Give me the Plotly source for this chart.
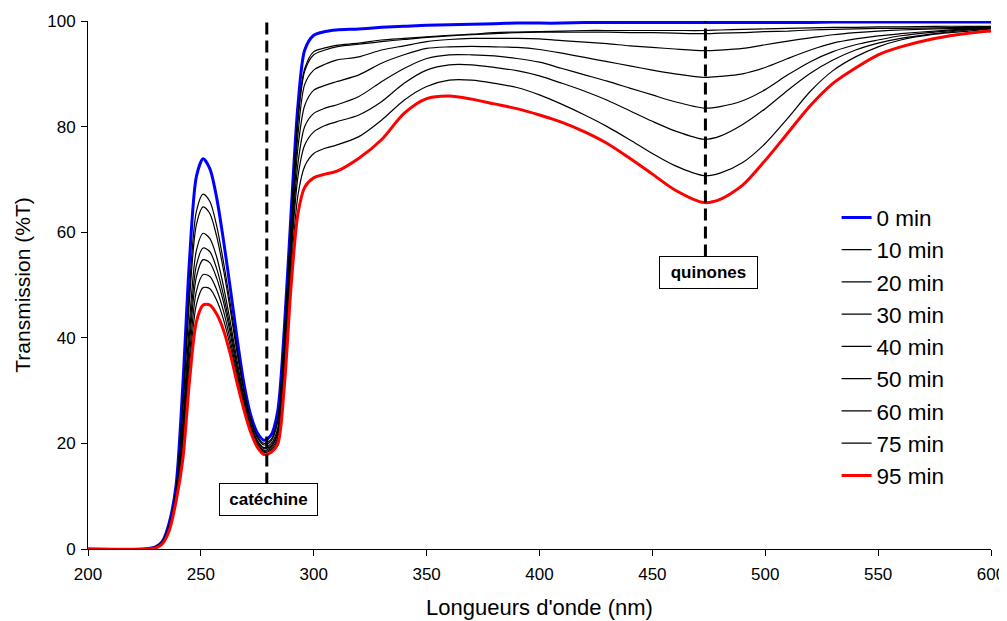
import plotly.graph_objects as go

# wavelengths (nm)
wl = [200, 225, 230, 233, 236, 239, 242, 245, 248, 251, 254, 257, 260, 263, 266, 269,
      272, 275, 278, 281, 284, 287, 290, 293, 296, 300, 305, 310, 320, 330, 340, 350,
      360, 370, 380, 390, 400, 410, 420, 430, 440, 450, 460, 473, 480, 490, 500, 510,
      520, 530, 540, 550, 560, 575, 590, 600]

t0 = [0, 0, 0.4, 1.5, 5, 12, 31, 55, 70.5, 73.9, 72, 66.5, 58.5, 49.5, 40, 31.5,
      25.5, 22, 20.6, 21.5, 26, 42, 64, 84, 94.5, 97.3, 98.0, 98.3, 98.5, 98.8, 99.0, 99.2,
      99.3, 99.4, 99.5, 99.6, 99.6, 99.6, 99.7, 99.7, 99.7, 99.7, 99.7, 99.7, 99.7, 99.7, 99.7, 99.7,
      99.7, 99.8, 99.8, 99.8, 99.8, 99.8, 99.8, 99.8]
t10 = [0, 0, 0.4, 1.4, 4.6, 11.3, 27.6, 49.5, 63.9, 67.2, 65.8, 61.2, 54.4, 46.5, 38, 30.3,
       24.7, 21.4, 20.0, 20.7, 24.5, 41, 62, 82, 91, 94.2, 94.9, 95.4, 95.8, 96.4, 96.7, 97.0,
       97.3, 97.5, 97.8, 97.9, 98.0, 98.1, 98.2, 98.2, 98.2, 98.2, 98.2, 98.2, 98.3, 98.4, 98.5, 98.6,
       98.7, 98.8, 98.8, 98.9, 98.9, 99.0, 99.0, 99.0]
t20 = [0, 0, 0.4, 1.4, 4.5, 11, 26.4, 47.4, 61.4, 64.8, 63.5, 59.2, 52.9, 45.4, 37.2, 29.9,
       24.4, 21.1, 19.7, 20.4, 24, 40, 61, 81, 90.5, 93.6, 94.5, 95.1, 95.6, 96.1, 96.5, 96.9,
       97.2, 97.4, 97.6, 97.8, 97.9, 97.9, 97.9, 97.9, 97.8, 97.8, 97.7, 97.6, 97.7, 97.8, 98.0, 98.1,
       98.3, 98.4, 98.5, 98.6, 98.6, 98.7, 98.8, 98.8]
t30 = [0, 0, 0.3, 1.3, 4.2, 10.5, 23.9, 43.3, 56.5, 59.8, 58.8, 55.3, 49.8, 43.1, 35.7, 29,
       23.8, 20.6, 19.2, 19.9, 22.8, 39, 59.5, 78.5, 88, 90.7, 91.8, 92.6, 93.2, 94.5, 95.3, 96.1,
       96.5, 96.7, 96.7, 96.7, 96.6, 96.3, 96.0, 95.7, 95.3, 95.0, 94.7, 94.4, 94.5, 94.8, 95.5, 96.2,
       96.8, 97.4, 97.8, 98.1, 98.3, 98.5, 98.6, 98.7]
t40 = [0, 0, 0.3, 1.3, 4.1, 10.2, 22.5, 41, 53.7, 57, 56.3, 53.1, 48.1, 41.9, 34.8, 28.5,
       23.5, 20.4, 19.0, 19.5, 22.2, 38, 58, 76, 84, 86.9, 87.8, 88.5, 89.8, 92.0, 93.6, 94.8,
       95.1, 95.2, 95.1, 95.0, 94.6, 93.9, 93.1, 92.3, 91.5, 90.7, 90.0, 89.3, 89.5, 90.0, 91.2, 92.9,
       94.5, 95.8, 96.6, 97.2, 97.6, 98.1, 98.5, 98.7]
t50 = [0, 0, 0.3, 1.2, 4, 9.9, 21.3, 39.1, 51.5, 54.8, 54.2, 51.3, 46.8, 40.9, 34.1, 28.1,
       23.2, 20.1, 18.7, 19.3, 21.7, 37, 57, 73, 80, 82.5, 83.5, 84.1, 85.7, 88.5, 91.0, 92.9,
       93.6, 93.6, 93.4, 92.9, 92.2, 91.0, 89.8, 88.6, 87.3, 86.0, 84.7, 83.5, 83.8, 84.9, 87.0, 89.8,
       92.3, 94.2, 95.5, 96.4, 97.2, 97.9, 98.4, 98.7]
t60 = [0, 0, 0.3, 1.1, 3.8, 9.6, 19.9, 36.8, 48.8, 52.0, 51.6, 49.1, 45.1, 39.6, 33.3, 27.6,
       22.9, 19.9, 18.5, 19, 21.1, 36, 55.5, 70.5, 76.5, 79.0, 80.2, 80.9, 82.2, 84.7, 88.2, 90.7,
       91.7, 91.7, 91.2, 90.6, 89.6, 88.2, 86.7, 85.0, 83.0, 81.0, 79.2, 77.6, 78.2, 80.4, 83.4, 86.9,
       90.1, 92.6, 94.5, 95.8, 96.7, 97.6, 98.3, 98.6]
t75 = [0, 0, 0.2, 1.1, 3.7, 9.4, 18.7, 34.8, 46.3, 49.5, 49.3, 47.1, 43.5, 38.5, 32.5, 27.1,
       22.6, 19.7, 18.3, 18.7, 20.5, 34, 53, 67, 72.5, 74.9, 75.9, 76.5, 78.1, 81.2, 85.0, 87.6,
       88.8, 88.8, 88.2, 87.4, 86.0, 84.2, 82.2, 80.0, 77.5, 74.9, 72.6, 70.7, 71.2, 73.2, 76.8, 81.6,
       86.7, 90.6, 93.2, 95.1, 96.4, 97.5, 98.1, 98.5]
t95 = [0, 0, 0.2, 1, 3.5, 9, 17, 32, 43, 46.2, 46.2, 44.5, 41.5, 37, 31.5, 26.5,
       22.2, 19.3, 17.9, 18.3, 19.8, 31, 50, 63.5, 68.5, 70.3, 71.0, 71.5, 74.0, 77.5, 82.5, 85.3,
       85.8, 85.2, 84.3, 83.4, 82.2, 80.8, 79.0, 76.8, 74.0, 71.0, 68.0, 65.6, 66.2, 68.9, 73.6, 78.8,
       84.0, 88.2, 91.1, 93.6, 95.1, 96.7, 97.7, 98.1]

series_names = ["0 min", "10 min", "20 min", "30 min", "40 min", "50 min", "60 min", "75 min", "95 min"]
series_values = [t0, t10, t20, t30, t40, t50, t60, t75, t95]

# marker lines: (wavelength, top, bottom), label box (x, y, text)
catechine_line = (279.2, 100, 12.2)
catechine_box = (279.8, 9.3, "catéchine")
quinone_line = (473.5, 100.8, 55.4)
quinone_box = (475.0, 52.3, "quinones")

FONT = "Liberation Sans, Arial, sans-serif"

fig = go.Figure()
for name, vals in zip(series_names, series_values):
    if name == "0 min":
        line = dict(color="#0000FF", width=3)
    elif name == "95 min":
        line = dict(color="#FF0000", width=3)
    else:
        line = dict(color="black", width=1.2)
    fig.add_trace(go.Scatter(x=wl, y=vals, name=name, mode="lines",
                             line=dict(shape="spline", smoothing=0.8, **line)))

for lam, top, bot in [catechine_line, quinone_line]:
    fig.add_shape(type="line", x0=lam, x1=lam, y0=bot, y1=top, xref="x", yref="y",
                  line=dict(color="black", width=3, dash="12px,6px"), layer="above")

for bx, by, txt in [catechine_box, quinone_box]:
    fig.add_annotation(x=bx, y=by, xref="x", yref="y", text="<b>" + txt + "</b>",
                       showarrow=False, font=dict(family=FONT, size=17, color="black"),
                       bordercolor="black", borderwidth=1, borderpad=3,
                       bgcolor="white", width=91, height=25)

# page body has an 8px margin, so the figure is sized to the visible area
fig.update_layout(
    width=999, height=613,
    paper_bgcolor="white", plot_bgcolor="white",
    margin=dict(l=80, r=16, t=13, b=72, autoexpand=False),
    font=dict(family=FONT, size=17, color="black"),
    showlegend=True,
    legend=dict(x=0.829, y=0.668, xanchor="left", yanchor="top",
                font=dict(family=FONT, size=22.5), bgcolor="rgba(0,0,0,0)",
                itemwidth=30),
)
fig.update_xaxes(range=[200, 600], tickvals=[200, 250, 300, 350, 400, 450, 500, 550, 600],
                 showgrid=False, zeroline=False, showline=True, linecolor="black", linewidth=1,
                 ticks="outside", ticklen=6, tickcolor="black", automargin=False,
                 ticklabelstandoff=4,
                 title=dict(text="Longueurs d'onde (nm)", font=dict(size=22), standoff=16))
fig.update_yaxes(range=[0, 100], tickvals=[0, 20, 40, 60, 80, 100],
                 showgrid=False, zeroline=False, showline=True, linecolor="black", linewidth=1,
                 ticks="outside", ticklen=6, tickcolor="black", automargin=False,
                 ticklabelstandoff=2,
                 title=dict(text="Transmission (%T)", font=dict(size=21), standoff=10))

fig.write_html("out.html")
